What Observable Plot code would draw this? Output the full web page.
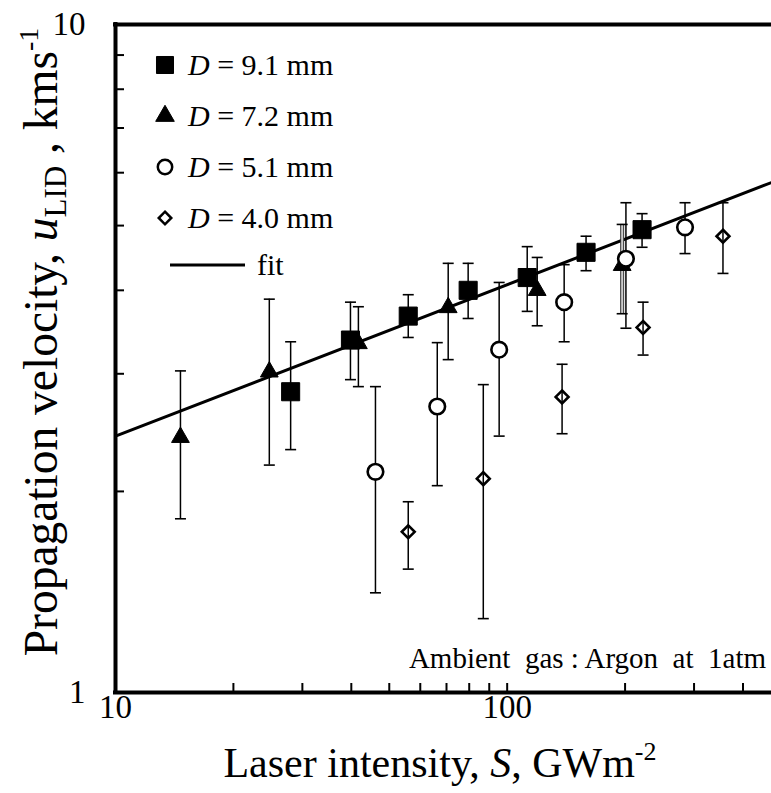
<!DOCTYPE html>
<html><head><meta charset="utf-8">
<script src="https://cdn.jsdelivr.net/npm/d3@7"></script>
<script src="https://cdn.jsdelivr.net/npm/@observablehq/plot@0.6"></script>
<style>
body{margin:0;background:#fff;}
#chart{position:relative;width:771px;height:793px;}
svg text{font-family:"Liberation Serif","Times New Roman",serif;}
</style></head><body><div id="chart"></div>
<script>
// D = 9.1 mm (filled squares)
const sqS  = [28.0, 39.8, 55.9, 79.5, 112.5, 159, 221];
const sqU  = [2.82, 3.37, 3.66, 4.00, 4.18, 4.56, 4.93];
const sqLo = [2.31, 2.94, 3.40, 3.63, 3.72, 4.28, 4.64];
const sqHi = [3.35, 3.84, 3.94, 4.39, 4.65, 4.82, 5.21];
// D = 7.2 mm (filled triangles)
const triS  = [14.65, 24.7, 41.7, 70.7, 119.3, 196.6];
const triU  = [2.41, 3.02, 3.33, 3.77, 4.00, 4.36];
const triLo = [1.82, 2.19, 2.87, 3.15, 3.54, 3.69];
const triHi = [3.03, 3.88, 3.78, 4.39, 4.48, 5.02];
// D = 5.1 mm (open circles)
const cirS  = [46.1, 66.3, 95.4, 139.8, 201, 284.5];
const cirU  = [2.14, 2.68, 3.26, 3.84, 4.46, 4.97];
const cirLo = [1.41, 2.04, 2.42, 3.35, 3.51, 4.54];
const cirHi = [2.87, 3.34, 4.11, 4.37, 5.41, 5.41];
// D = 4.0 mm (open diamonds)
const diaS  = [55.9, 86.9, 138.1, 222.3, 355.6];
const diaU  = [1.74, 2.09, 2.77, 3.52, 4.82];
const diaLo = [1.53, 1.29, 2.44, 3.20, 4.24];
const diaHi = [1.93, 2.89, 3.10, 3.84, 5.41];
// fit line end points
const fitS = [10, 473];
const fitU = [2.42, 5.80];

const xTicks = [10,20,30,40,50,60,70,80,90,100,200,300,400];
const xTickLabels = [10, 100];
const yTicks = [1,2,3,4,5,6,7,8,9,10];
const yTickLabels = [1, 10];

const legendLabels = ["9.1", "7.2", "5.1", "4.0"];
const annotation = "Ambient  gas : Argon  at  1atm";

const rows = (S, U, Lo, Hi) => S.map((s, i) => ({S: s, u: U[i], lo: Lo[i], hi: Hi[i]}));
const sq = rows(sqS, sqU, sqLo, sqHi);
const tri = rows(triS, triU, triLo, triHi);
const cir = rows(cirS, cirU, cirLo, cirHi);
const dia = rows(diaS, diaU, diaLo, diaHi);
const fit = fitS.map((s, i) => ({S: s, u: fitU[i]}));

const cap = {draw(ctx, size) { const w = Math.sqrt(size / Math.PI); ctx.moveTo(-w, 0); ctx.lineTo(w, 0); }};
const plotH = 668, plotW = 656;

function errbars(data) {
  return [
    Plot.ruleX(data, {x: "S", y1: "lo", y2: "hi", stroke: "black", strokeWidth: 1.5}),
    Plot.dot(data, {x: "S", y: "lo", symbol: cap, r: 5.5, stroke: "black", strokeWidth: 1.6}),
    Plot.dot(data, {x: "S", y: "hi", symbol: cap, r: 5.5, stroke: "black", strokeWidth: 1.6})
  ];
}

const triMain = tri.slice(0, 5), triLast = tri.slice(5);

const plot = Plot.plot({
  width: 771, height: 793,
  marginLeft: 115, marginRight: 0, marginTop: 24, marginBottom: 101,
  x: {type: "log", domain: [10, 473]},
  y: {type: "log", domain: [1, 10]},
  style: {background: "white", fontFamily: "Liberation Serif"},
  marks: [
    Plot.line(fit, {x: "S", y: "u", stroke: "black", strokeWidth: 3}),
    ...errbars(sq), ...errbars(triMain), ...errbars(cir),
    Plot.ruleX(triLast, {x: "S", y1: "lo", y2: "hi", stroke: "#333", strokeWidth: 4}),
    Plot.ruleX(triLast, {x: "S", y1: "lo", y2: "hi", stroke: "#ccc", strokeWidth: 2}),
    Plot.dot(triLast, {x: "S", y: "lo", symbol: cap, r: 5.5, stroke: "black", strokeWidth: 1.6}),
    Plot.dot(triLast, {x: "S", y: "hi", symbol: cap, r: 5.5, stroke: "black", strokeWidth: 1.6}),
    Plot.dot(sq, {x: "S", y: "u", symbol: "square", r: 10.2, fill: "black", stroke: "black", strokeWidth: 1, strokeLinejoin: "round"}),
    Plot.dot(tri, {x: "S", y: "u", symbol: "triangle", r: 6.6, fill: "black", stroke: "black", strokeWidth: 1}),
    Plot.dot(cir, {x: "S", y: "u", symbol: "circle", r: 7.8, fill: "white", stroke: "black", strokeWidth: 2.6}),
    ...errbars(dia),
    Plot.dot(dia, {x: "S", y: "u", symbol: "diamond2", r: 5.8, fill: "none", stroke: "black", strokeWidth: 2.6}),
    // inward ticks
    Plot.tickX(xTicks, {x: d => d, insetTop: plotH - 9, stroke: "black", strokeWidth: 2}),
    Plot.tickY(yTicks, {y: d => d, insetRight: plotW - 9, stroke: "black", strokeWidth: 2}),
    // frame lines
    Plot.ruleX([10], {stroke: "black", strokeWidth: 4, strokeLinecap: "square"}),
    Plot.ruleY([1], {stroke: "black", strokeWidth: 4, strokeLinecap: "square"}),
    Plot.ruleY([10], {stroke: "black", strokeWidth: 4, strokeLinecap: "square"}),
    Plot.axisX({ticks: xTickLabels, tickSize: 0, tickPadding: 2, fontSize: 33, tickFormat: d => String(d), label: null}),
    Plot.axisY({ticks: yTickLabels, tickSize: 0, tickPadding: 30, fontSize: 33, tickFormat: d => String(d), label: null})
  ]
});
document.getElementById("chart").appendChild(plot);

const svg = d3.select(plot);
const serif = "Liberation Serif, Times New Roman, serif";

// x-axis title
const xt = svg.append("text").attr("x", 440).attr("y", 777).attr("text-anchor", "middle")
  .attr("font-size", 42).attr("font-family", serif).attr("fill", "black");
xt.append("tspan").text("Laser intensity, ");
xt.append("tspan").attr("font-style", "italic").text("S");
xt.append("tspan").text(", GWm");
xt.append("tspan").attr("font-size", 26).attr("dy", -17).text("-2");

// y-axis title
const yt = svg.append("text").attr("transform", "translate(57,342) rotate(-90)").attr("text-anchor", "middle")
  .attr("font-size", 47.5).attr("font-family", serif).attr("fill", "black");
yt.append("tspan").text("Propagation velocity, ");
yt.append("tspan").attr("font-style", "italic").text("u");
yt.append("tspan").attr("font-size", 31).attr("dy", 9).text("LID");
yt.append("tspan").attr("dy", -9).text(" , kms");
yt.append("tspan").attr("font-size", 28).attr("dy", -19).text("-1");

// legend
const lg = svg.append("g").attr("font-family", serif).attr("font-size", 30).attr("text-anchor", "start");
const symTypes = [d3.symbolSquare, d3.symbolTriangle, d3.symbolCircle, d3.symbolDiamond2];
const symSizes = [290, 150, Math.PI * 7.2 * 7.2, 100];
const symFill = ["black", "black", "white", "none"];
const symSW = [1, 1, 2.5, 2.5];
const rowY = [65, 116, 167, 218];
legendLabels.forEach((lab, i) => {
  lg.append("path").attr("d", d3.symbol(symTypes[i], symSizes[i])()).attr("transform", `translate(165,${rowY[i]})`)
    .attr("fill", symFill[i]).attr("stroke", "black").attr("stroke-width", symSW[i]);
  const t = lg.append("text").attr("x", 188).attr("y", rowY[i] + 10).attr("fill", "black").attr("text-anchor", "start");
  t.append("tspan").attr("font-style", "italic").text("D");
  t.append("tspan").text(` = ${lab} mm`);
});
lg.append("line").attr("x1", 170).attr("x2", 245).attr("y1", 265).attr("y2", 265).attr("stroke", "black").attr("stroke-width", 3);
lg.append("text").attr("x", 257).attr("y", 275).attr("fill", "black").attr("text-anchor", "start").text("fit");

// annotation
svg.append("text").attr("x", 766).attr("y", 668).attr("text-anchor", "end").attr("font-family", serif)
  .attr("font-size", 29).attr("fill", "black").style("white-space", "pre").text(annotation);
</script></body></html>
